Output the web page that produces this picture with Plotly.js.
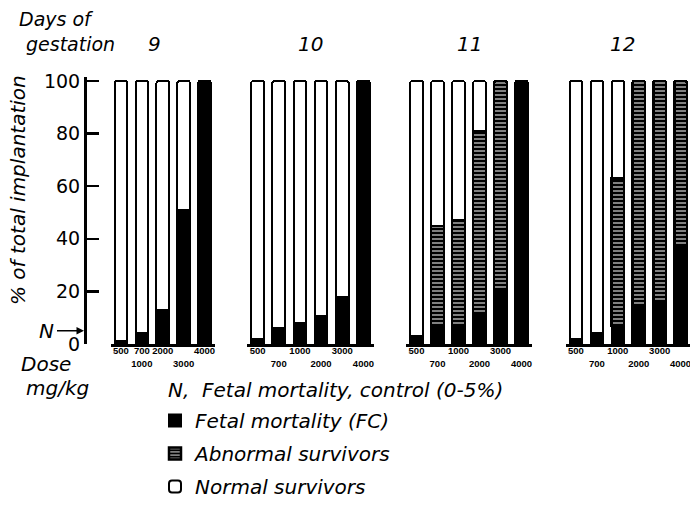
<!DOCTYPE html>
<html>
<head>
<meta charset="utf-8">
<script src="https://cdn.plot.ly/plotly-3.0.1.min.js"></script>
<style>html,body{margin:0;padding:0;background:#fff;}#chart{width:690px;height:506px;}</style>
</head>
<body>
<div id="chart"></div>
<script>
// ---- data (% of total implantation) ----
const days = ['9', '10', '11', '12'];

const doses9 = ['500', '1000', '2000', '3000', '4000'];
const doseTicks9 = ['500', '700<br>1000', '2000', '<br>3000', '4000'];
const fetal9 = [1, 4, 13, 51, 100];
const abnormal9 = [0, 0, 0, 0, 0];
const normal9 = [99, 96, 87, 49, 0];

const doses = ['500', '700', '1000', '2000', '3000', '4000'];
const doseTicks = ['500', '<br>700', '1000', '<br>2000', '3000', '<br>4000'];

const fetal10 = [2, 6, 8, 10.5, 18, 100];
const abnormal10 = [0, 0, 0, 0, 0, 0];
const normal10 = [98, 94, 92, 89.5, 82, 0];

const fetal11 = [3, 7, 7, 11, 21, 100];
const abnormal11 = [0, 38, 40, 70, 79, 0];
const normal11 = [97, 55, 53, 19, 0, 0];

const fetal12 = [2, 4, 7, 14, 16, 37];
const abnormal12 = [0, 0, 56, 86, 84, 63];
const normal12 = [98, 96, 37, 0, 0, 0];

const yTicks = [0, 20, 40, 60, 80, 100];
const controlMortality = 5;

const seriesNames = ['Fetal mortality (FC)', 'Abnormal survivors', 'Normal survivors'];

// ---- layout helpers ----
const W = 690, H = 506;
const px = v => v / W;
const py = v => (H - v) / H;

const panels = [
  {day: days[0], cats: doses9, ticks: doseTicks9, vals: [fetal9, abnormal9, normal9], ax: 'x',  dom: [110.5, 215], range: [-0.5, 4.5]},
  {day: days[1], cats: doses,  ticks: doseTicks,  vals: [fetal10, abnormal10, normal10], ax: 'x2', dom: [247, 374], range: [-0.5, 5.5]},
  {day: days[2], cats: doses,  ticks: doseTicks,  vals: [fetal11, abnormal11, normal11], ax: 'x3', dom: [406, 532], range: [-0.5, 5.5]},
  {day: days[3], cats: doses,  ticks: doseTicks,  vals: [fetal12, abnormal12, normal12], ax: 'x4', dom: [565.5, 690], range: [-0.5, 5.45]}
];

const markerStyles = [
  {color: 'black', line: {color: 'black', width: 2}},
  {color: 'black', line: {color: 'black', width: 2.5},
   pattern: {shape: '-', fillmode: 'overlay', fgcolor: 'white', size: 4, solidity: 0.5}},
  {color: 'white', line: {color: 'black', width: 2}, cornerradius: 2}
];

const itFont = {family: 'DejaVu Sans', size: 20, color: 'black', style: 'italic'};

const traces = [];
panels.forEach((p, pi) => {
  p.vals.forEach((v, si) => {
    traces.push({
      type: 'bar',
      x: p.cats,
      y: v,
      name: seriesNames[si],
      legendgroup: 'g' + si,
      showlegend: pi === 0,
      xaxis: p.ax,
      yaxis: 'y',
      marker: markerStyles[si],
      hoverinfo: 'skip'
    });
  });
});

const layout = {
  width: W, height: H,
  margin: {l: 0, r: 0, t: 0, b: 0},
  paper_bgcolor: 'white', plot_bgcolor: 'white',
  barmode: 'stack',
  bargap: 0.4,
  showlegend: true,
  legend: {
    x: px(155), y: py(401), xanchor: 'left', yanchor: 'top',
    traceorder: 'grouped', tracegroupgap: 4,
    font: itFont, bgcolor: 'rgba(0,0,0,0)'
  },
  yaxis: {
    domain: [py(344), py(77)],
    range: [0, 101.5],
    anchor: 'free', position: px(85),
    tickmode: 'array', tickvals: yTicks,
    ticks: 'inside', ticklen: 12, tickwidth: 2.5, tickcolor: 'black',
    showline: true, linewidth: 3, linecolor: 'black',
    showgrid: false, zeroline: false,
    tickfont: {family: 'DejaVu Sans', size: 19, color: 'black'},
    automargin: false, fixedrange: true
  },
  annotations: [
    {text: 'Days of', x: px(17), y: py(19), xref: 'paper', yref: 'paper', xanchor: 'left', yanchor: 'middle', showarrow: false, font: {...itFont, size: 19}},
    {text: 'gestation', x: px(24), y: py(44), xref: 'paper', yref: 'paper', xanchor: 'left', yanchor: 'middle', showarrow: false, font: {...itFont, size: 19}},
    {text: '% of total implantation', x: px(18), y: py(190), xref: 'paper', yref: 'paper', textangle: -90, xanchor: 'center', yanchor: 'middle', showarrow: false, font: {...itFont, size: 20}},
    {text: 'Dose', x: px(19), y: py(364), xref: 'paper', yref: 'paper', xanchor: 'left', yanchor: 'middle', showarrow: false, font: {...itFont, size: 20}},
    {text: 'mg/kg', x: px(24), y: py(388), xref: 'paper', yref: 'paper', xanchor: 'left', yanchor: 'middle', showarrow: false, font: {...itFont, size: 20}},
    {text: 'N', x: px(84), y: controlMortality, xref: 'paper', yref: 'y', ax: -38, ay: 0, showarrow: true, arrowhead: 2, arrowsize: 1, arrowwidth: 1.5, arrowcolor: 'black', standoff: 0, startstandoff: 2, font: {...itFont, size: 20}},
    {text: 'N,  Fetal mortality, control (0-5%)', x: px(166), y: py(390), xref: 'paper', yref: 'paper', xanchor: 'left', yanchor: 'middle', showarrow: false, font: itFont}
  ]
};

panels.forEach((p, pi) => {
  const key = pi === 0 ? 'xaxis' : 'xaxis' + (pi + 1);
  layout[key] = {
    domain: [px(p.dom[0]), px(Math.min(p.dom[1], W))],
    anchor: 'y',
    type: 'category',
    range: p.range,
    tickmode: 'array', tickvals: p.cats, ticktext: p.ticks,
    tickangle: 0,
    ticks: '', showgrid: false, zeroline: false,
    showline: true, linewidth: 3, linecolor: 'black',
    tickfont: {family: 'Liberation Sans', size: 9.5, color: 'black', weight: 'bold'},
    ticklabelstandoff: -4,
    automargin: false, fixedrange: true
  };
  const mid = (p.dom[0] + p.dom[1]) / 2;
  layout.annotations.push({
    text: p.day, x: px(pi === 3 ? 622 : (pi === 0 ? 154 : mid)), y: py(44), xref: 'paper', yref: 'paper',
    xanchor: 'center', yanchor: 'middle', showarrow: false, font: {...itFont, size: 20}
  });
});

Plotly.newPlot('chart', traces, layout, {displayModeBar: false, staticPlot: true});
</script>
</body>
</html>
